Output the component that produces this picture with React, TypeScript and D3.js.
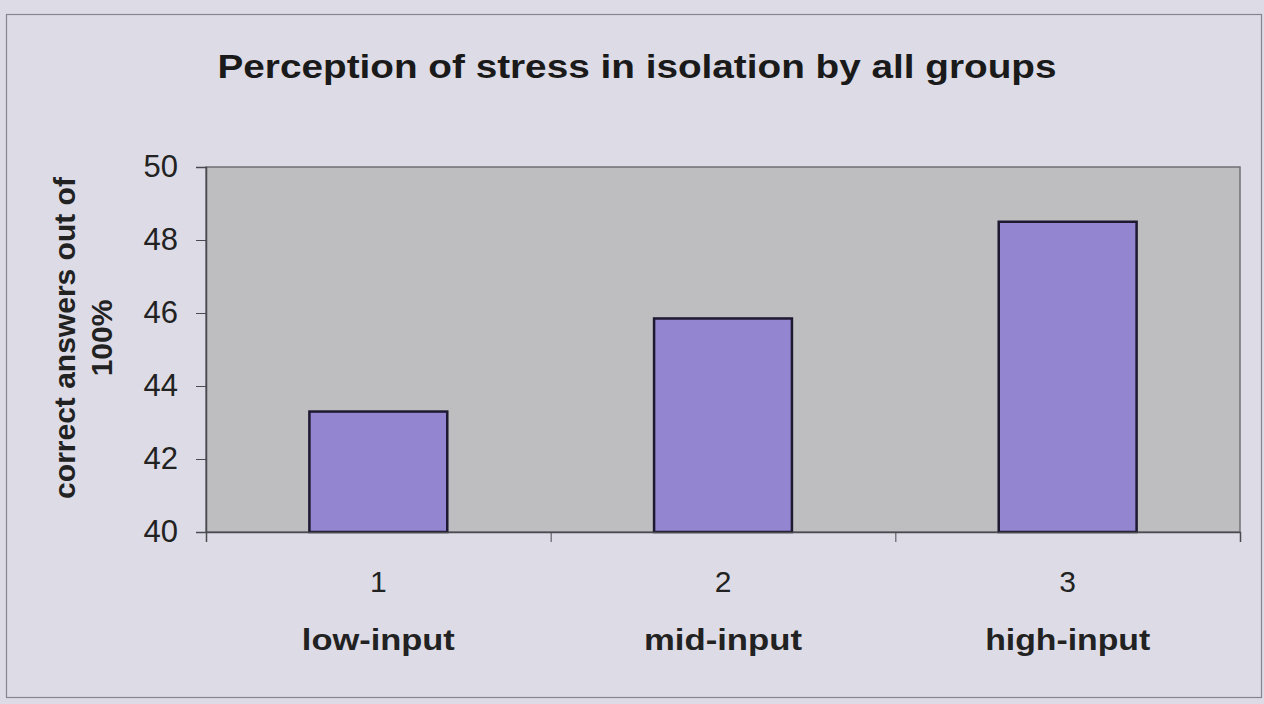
import React, { useEffect, useRef } from "react";
import * as d3 from "d3";

const groupNums = ["1", "2", "3"];
const groupNames = ["low-input", "mid-input", "high-input"];
const scores = [43.3, 45.85, 48.5];
const yTicks = [40, 42, 44, 46, 48, 50];

const W = 1264;
const H = 704;
const plot = { left: 206, right: 1240, top: 167, bottom: 532 };

const App = () => {
  const ref = useRef<SVGSVGElement>(null);

  useEffect(() => {
    const svg = d3.select(ref.current);
    svg.selectAll("*").remove();
    const font = "'Liberation Sans', Arial, sans-serif";

    // chart area background + frame
    svg.append("rect").attr("x", 0).attr("y", 0).attr("width", W).attr("height", H).attr("fill", "#dddce6");
    svg.append("rect").attr("x", 6.5).attr("y", 14.5).attr("width", 1255).attr("height", 683)
      .attr("fill", "none").attr("stroke", "#85858d").attr("stroke-width", 1.2);

    const x = d3.scaleBand().domain(groupNums).range([plot.left, plot.right]).paddingInner(0.6).paddingOuter(0.3);
    const xEdges = d3.scaleLinear().domain([0, groupNums.length]).range([plot.left, plot.right]);
    const y = d3.scaleLinear().domain([40, 50]).range([plot.bottom, plot.top]);

    svg.append("rect")
      .attr("x", plot.left).attr("y", plot.top)
      .attr("width", plot.right - plot.left).attr("height", plot.bottom - plot.top)
      .attr("fill", "#bebec1").attr("stroke", "#6f6f74").attr("stroke-width", 1.5);

    // bars
    svg.selectAll("rect.bar")
      .data(scores)
      .enter()
      .append("rect")
      .attr("class", "bar")
      .attr("x", (d, i) => x(groupNums[i]) as number)
      .attr("y", (d) => y(d))
      .attr("width", x.bandwidth())
      .attr("height", (d) => y(40) - y(d))
      .attr("fill", "#9385cf")
      .attr("stroke", "#1e1830")
      .attr("stroke-width", 2.5);

    // y axis
    const yAxis = svg.append("g").attr("transform", `translate(${plot.left},0)`)
      .call(d3.axisLeft(y).tickValues(yTicks).tickSize(10).tickPadding(18).tickFormat(d3.format("d")));
    yAxis.select(".domain").attr("stroke", "#4a4a50").attr("stroke-width", 1.5);
    yAxis.selectAll(".tick line").attr("stroke", "#4a4a50");
    yAxis.selectAll("text").attr("font-family", font).attr("font-size", 31).attr("fill", "#222");

    // x axis
    const xAxis = svg.append("g").attr("transform", `translate(0,${plot.bottom})`)
      .call(d3.axisBottom(xEdges).ticks(3).tickSize(10).tickFormat(() => ""));
    xAxis.select(".domain").attr("stroke", "#4a4a50").attr("stroke-width", 1.5);
    xAxis.selectAll(".tick line").attr("stroke", "#4a4a50");

    svg.selectAll("text.num")
      .data(groupNums)
      .enter()
      .append("text")
      .attr("class", "num")
      .attr("x", (d) => (x(d) as number) + x.bandwidth() / 2)
      .attr("y", 592)
      .attr("text-anchor", "middle")
      .attr("font-family", font).attr("font-size", 30).attr("fill", "#222")
      .text((d) => d);

    const nameWidths = [153, 158, 165];
    svg.selectAll("text.name")
      .data(groupNames)
      .enter()
      .append("text")
      .attr("class", "name")
      .attr("x", (d, i) => (x(groupNums[i]) as number) + x.bandwidth() / 2)
      .attr("y", 650)
      .attr("text-anchor", "middle")
      .attr("font-family", font).attr("font-size", 29).attr("font-weight", "bold").attr("fill", "#222")
      .attr("textLength", (d, i) => nameWidths[i]).attr("lengthAdjust", "spacingAndGlyphs")
      .text((d) => d);

    // title
    svg.append("text")
      .attr("x", 637).attr("y", 78)
      .attr("text-anchor", "middle")
      .attr("font-family", font).attr("font-size", 34).attr("font-weight", "bold").attr("fill", "#1a1a1a")
      .attr("textLength", 839).attr("lengthAdjust", "spacingAndGlyphs")
      .text("Perception of stress in isolation by all groups");

    // y label
    const yl = svg.append("text")
      .attr("transform", `translate(0,338) rotate(-90)`)
      .attr("text-anchor", "middle")
      .attr("font-family", font).attr("font-size", 30).attr("font-weight", "bold").attr("fill", "#222");
    yl.append("tspan").attr("x", 0).attr("y", 75).text("correct answers out of");
    yl.append("tspan").attr("x", 0).attr("y", 112).text("100%");
  }, []);

  return (
    <svg ref={ref} width={W} height={H} style={{ position: "absolute", left: 0, top: 0 }} />
  );
};

export default App;
